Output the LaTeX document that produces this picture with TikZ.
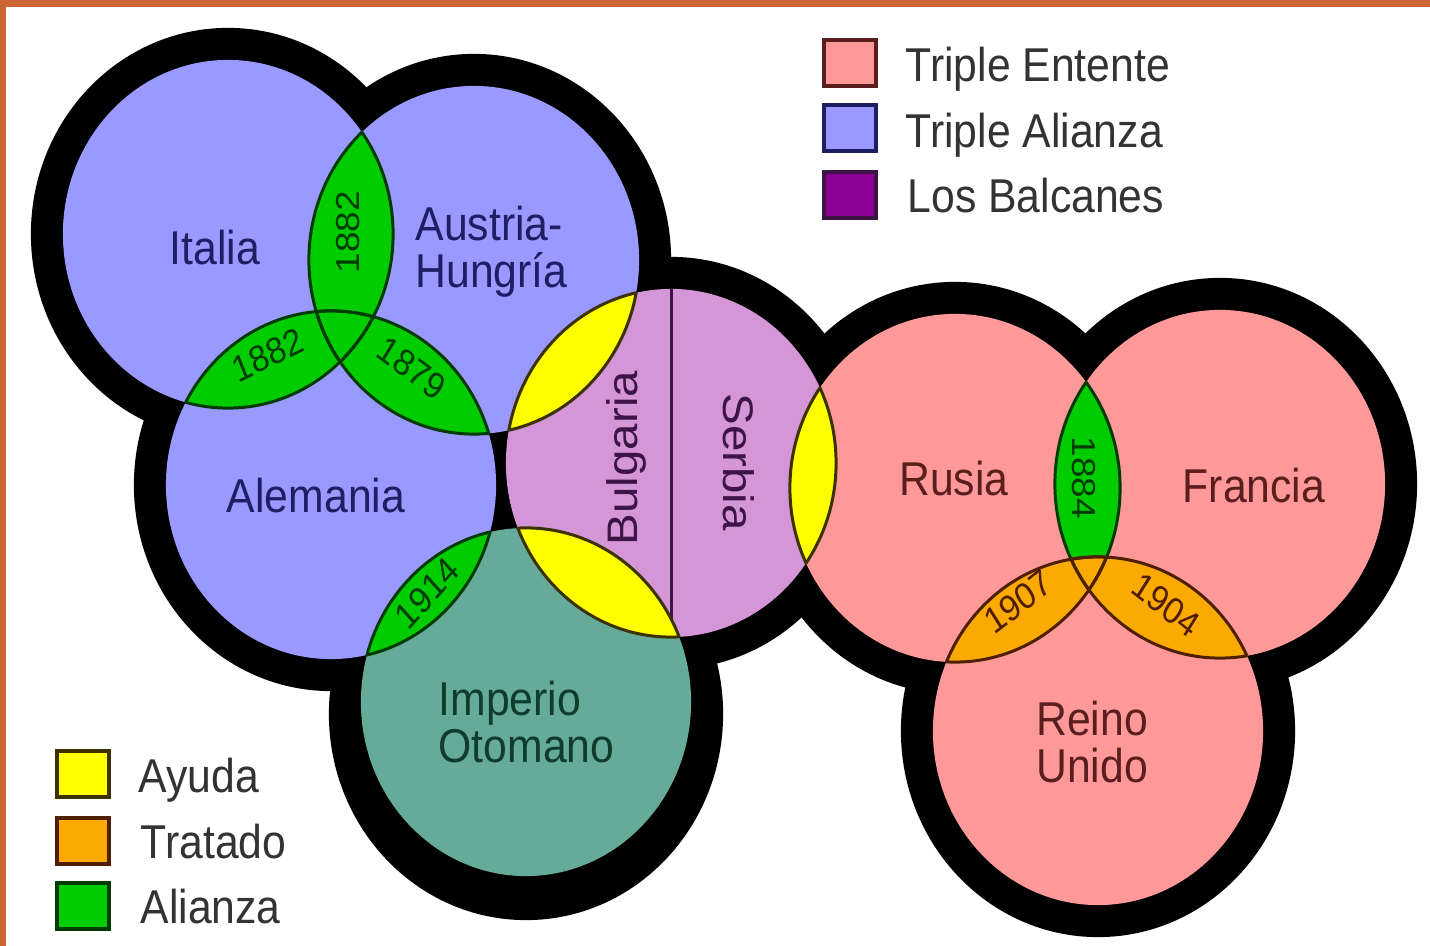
\documentclass[tikz,border=0pt]{standalone}
\usepackage{fontspec}
\setmainfont{Liberation Sans}
\definecolor{frame}{RGB}{204,100,52}
\definecolor{alz}{RGB}{153,153,255}
\definecolor{ent}{RGB}{255,153,153}
\definecolor{balk}{RGB}{212,150,214}
\definecolor{otom}{RGB}{102,170,153}
\definecolor{alli}{RGB}{0,204,0}
\definecolor{help}{RGB}{255,255,0}
\definecolor{pact}{RGB}{250,170,0}
\definecolor{purp}{RGB}{140,0,150}
\definecolor{allidark}{RGB}{0,60,0}
\definecolor{helpdark}{RGB}{60,50,0}
\definecolor{pactdark}{RGB}{80,30,0}
\definecolor{alztxt}{RGB}{30,30,100}
\definecolor{enttxt}{RGB}{90,30,30}
\definecolor{balktxt}{RGB}{60,20,70}
\definecolor{otomtxt}{RGB}{15,60,45}
\definecolor{keytxt}{RGB}{51,51,51}

\begin{document}
\begin{tikzpicture}[x=0.01cm, y=-0.01cm,
    ell/.style={x radius=1.65cm, y radius=1.74cm},
    rim/.style={x radius=1.97cm, y radius=2.06cm},
    lbl/.style={font=\fontsize{13.5}{13.3}\selectfont, xscale=0.9, inner sep=0pt},
    yr/.style={font=\fontsize{10.5}{12}\selectfont, xscale=0.9, inner sep=0pt},
    keybox/.style={line width=0.04cm, minimum width=0.51cm, minimum height=0.46cm, inner sep=0pt}]
    \useasboundingbox (0,0) rectangle (1430,946);
    \fill[white] (0,0) rectangle (1430,946);
    \fill[frame] (0,0) rectangle (1430,7);
    \fill[frame] (0,0) rectangle (6,946);

    \coordinate (ita) at (228,234);
    \coordinate (aus) at (474,260);
    \coordinate (ale) at (331,485);
    \coordinate (bal) at (671,463);
    \coordinate (oto) at (526,702);
    \coordinate (rus) at (955,488);
    \coordinate (fra) at (1220,484);
    \coordinate (gbr) at (1098,731);
    \coordinate (otorim) at (526,714);

    % black rims first, then the countries
    \foreach \c in {ita,aus,ale,bal,otorim,rus,fra,gbr}
        \fill[black] (\c) ellipse [rim];
    \foreach \c/\col in {ita/alz, aus/alz, ale/alz, bal/balk, oto/otom, rus/ent, fra/ent, gbr/ent}
        \fill[\col] (\c) ellipse [ell];

    \begin{scope}
        \clip (bal) ellipse [ell];
        \draw[balktxt, line width=0.03cm] (671,280) -- (671,650);
    \end{scope}

    % lenses
    \foreach \a/\b/\col in {ita/aus/alli, ita/ale/alli, aus/ale/alli, ale/oto/alli,
            aus/bal/help, oto/bal/help, bal/rus/help, rus/fra/alli, rus/gbr/pact, fra/gbr/pact} {
        \begin{scope}
            \clip (\a) ellipse [ell];
            \fill[\col] (\b) ellipse [ell];
        \end{scope}
    }
    \foreach \a/\b/\col in {ita/aus/allidark, ita/ale/allidark, aus/ale/allidark, ale/oto/allidark,
            aus/bal/helpdark, oto/bal/helpdark, bal/rus/helpdark, rus/fra/allidark, rus/gbr/pactdark, fra/gbr/pactdark} {
        \begin{scope}
            \clip (\a) ellipse [ell];
            \draw[\col, line width=0.03cm] (\b) ellipse [ell];
        \end{scope}
        \begin{scope}
            \clip (\b) ellipse [ell];
            \draw[\col, line width=0.03cm] (\a) ellipse [ell];
        \end{scope}
    }

    \node[lbl, text=alztxt, anchor=base] (italia) at (215,265) {Italia};
    \node[lbl, text=alztxt, anchor=west, align=left] (austria) at (415,252) {Austria-\\Hungría};
    \node[lbl, text=alztxt, anchor=base] (alemania) at (316,512) {Alemania};
    \node[lbl, text=balktxt, rotate=90] (bulgaria) at (626,458) {Bulgaria};
    \node[lbl, text=balktxt, rotate=-90] (serbia) at (739,462) {Serbia};
    \node[lbl, text=otomtxt, anchor=west, align=left] (otomano) at (438,722) {Imperio\\Otomano};
    \node[lbl, text=enttxt, anchor=base] (rusia) at (954,495) {Rusia};
    \node[lbl, text=enttxt, anchor=base] (francia) at (1254,502) {Francia};
    \node[lbl, text=enttxt, align=center] (reino) at (1092,742) {Reino\\Unido};

    \node[yr, text=allidark, rotate=90] (y1882a) at (348,232) {1882};
    \node[yr, text=allidark, rotate=24] (y1882b) at (268,355) {1882};
    \node[yr, text=allidark, rotate=-34] (y1879) at (412,368) {1879};
    \node[yr, text=allidark, rotate=45] (y1914) at (427,593) {1914};
    \node[yr, text=allidark, rotate=-90] (y1884) at (1084,478) {1884};
    \node[yr, text=pactdark, rotate=35] (y1907) at (1018,602) {1907};
    \node[yr, text=pactdark, rotate=-35] (y1904) at (1166,605) {1904};

    % legends
    \node[keybox, fill=ent, draw=enttxt] (kent) at (850,63) {};
    \node[keybox, fill=alz, draw=alztxt] (kalz) at (850,128) {};
    \node[keybox, fill=purp, draw=balktxt] (kbal) at (850,195) {};
    \node[lbl, text=keytxt, anchor=base west] (tent) at (905,82) {Triple Entente};
    \node[lbl, text=keytxt, anchor=base west] (talz) at (905,148) {Triple Alianza};
    \node[lbl, text=keytxt, anchor=base west] (tbal) at (907,213) {Los Balcanes};

    \node[keybox, fill=help, draw=helpdark] (khelp) at (83,774) {};
    \node[keybox, fill=pact, draw=pactdark] (kpact) at (83,841) {};
    \node[keybox, fill=alli, draw=allidark] (kalli) at (83,906) {};
    \node[lbl, text=keytxt, anchor=base west] (thelp) at (138,792) {Ayuda};
    \node[lbl, text=keytxt, anchor=base west] (tpact) at (140,858) {Tratado};
    \node[lbl, text=keytxt, anchor=base west] (talli) at (140,923) {Alianza};
\end{tikzpicture}
\end{document}
